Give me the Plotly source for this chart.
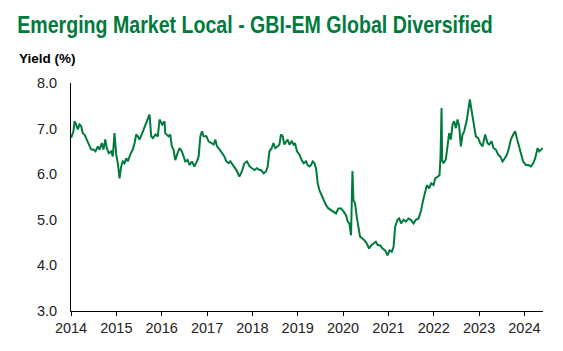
import datetime as dt
import plotly.graph_objects as go

# Time of each reading, as decimal years
t_years = [
    2014.004, 2014.026, 2014.055, 2014.077, 2014.115, 2014.150, 2014.188, 2014.225, 2014.260,
    2014.298, 2014.336, 2014.371, 2014.408, 2014.446, 2014.497, 2014.541, 2014.592, 2014.629,
    2014.680, 2014.717, 2014.755, 2014.790, 2014.834, 2014.887, 2014.923, 2014.960, 2014.998,
    2015.033, 2015.071, 2015.108, 2015.143, 2015.181, 2015.219, 2015.254, 2015.307, 2015.364,
    2015.402, 2015.439, 2015.475, 2015.512, 2015.572, 2015.623, 2015.673, 2015.733, 2015.770,
    2015.806, 2015.865, 2015.916, 2015.954, 2016.013, 2016.064, 2016.079, 2016.152, 2016.190,
    2016.225, 2016.263, 2016.300, 2016.351, 2016.395, 2016.446, 2016.483, 2016.521, 2016.572,
    2016.616, 2016.667, 2016.720, 2016.777, 2016.815, 2016.852, 2016.887, 2016.925, 2016.985,
    2017.035, 2017.086, 2017.146, 2017.183, 2017.219, 2017.278, 2017.329, 2017.382, 2017.426,
    2017.477, 2017.514, 2017.587, 2017.647, 2017.713, 2017.770, 2017.823, 2017.881, 2017.940,
    2017.991, 2018.044, 2018.102, 2018.155, 2018.190, 2018.249, 2018.300, 2018.338, 2018.375,
    2018.426, 2018.464, 2018.508, 2018.559, 2018.596, 2018.631, 2018.669, 2018.706, 2018.742,
    2018.779, 2018.817, 2018.868, 2018.912, 2018.941, 2018.985, 2019.038, 2019.088, 2019.132,
    2019.183, 2019.221, 2019.258, 2019.294, 2019.331, 2019.369, 2019.404, 2019.442, 2019.479,
    2019.530, 2019.574, 2019.625, 2019.678, 2019.735, 2019.795, 2019.846, 2019.898, 2019.956,
    2020.015, 2020.066, 2020.104, 2020.141, 2020.177, 2020.208, 2020.230, 2020.265, 2020.302,
    2020.340, 2020.375, 2020.428, 2020.472, 2020.523, 2020.574, 2020.618, 2020.671, 2020.722,
    2020.766, 2020.817, 2020.870, 2020.927, 2020.980, 2021.024, 2021.075, 2021.113, 2021.148,
    2021.201, 2021.236, 2021.280, 2021.333, 2021.384, 2021.444, 2021.494, 2021.554, 2021.605,
    2021.664, 2021.715, 2021.759, 2021.810, 2021.848, 2021.898, 2021.943, 2021.996, 2022.031,
    2022.091, 2022.128, 2022.150, 2022.172, 2022.185, 2022.216, 2022.267, 2022.305, 2022.340,
    2022.377, 2022.415, 2022.450, 2022.488, 2022.525, 2022.561, 2022.598, 2022.636, 2022.671,
    2022.724, 2022.759, 2022.797, 2022.826, 2022.857, 2022.892, 2022.929, 2022.980, 2023.024,
    2023.077, 2023.135, 2023.188, 2023.223, 2023.276, 2023.320, 2023.371, 2023.422, 2023.466,
    2023.519, 2023.570, 2023.614, 2023.651, 2023.702, 2023.753, 2023.797, 2023.834, 2023.872,
    2023.923, 2023.973, 2024.033, 2024.093, 2024.143, 2024.194, 2024.238, 2024.291, 2024.327,
    2024.380, 2024.402,
]

yields = [
    6.80, 6.87, 6.94, 7.16, 7.09, 6.98, 7.09, 7.05, 6.90,
    6.87, 6.79, 6.72, 6.61, 6.54, 6.54, 6.50, 6.61, 6.54,
    6.68, 6.54, 6.76, 6.57, 6.46, 6.50, 6.39, 6.90, 6.43,
    6.24, 5.91, 6.17, 6.28, 6.24, 6.35, 6.28, 6.43, 6.54,
    6.68, 6.87, 6.83, 6.76, 6.90, 7.05, 7.16, 7.31, 6.83,
    6.79, 6.87, 6.83, 7.20, 7.09, 7.16, 6.90, 6.83, 6.87,
    6.61, 6.54, 6.31, 6.46, 6.57, 6.50, 6.39, 6.28, 6.31,
    6.20, 6.28, 6.17, 6.28, 6.39, 6.83, 6.94, 6.83, 6.83,
    6.72, 6.68, 6.65, 6.76, 6.61, 6.54, 6.46, 6.39, 6.28,
    6.24, 6.28, 6.17, 6.09, 5.95, 6.06, 6.24, 6.28, 6.17,
    6.13, 6.09, 6.13, 6.09, 6.09, 6.02, 6.06, 6.17, 6.50,
    6.57, 6.68, 6.57, 6.61, 6.65, 6.87, 6.83, 6.65, 6.72,
    6.76, 6.65, 6.72, 6.65, 6.68, 6.50, 6.43, 6.31, 6.24,
    6.28, 6.20, 6.17, 6.20, 6.28, 6.24, 6.13, 5.80, 5.65,
    5.54, 5.43, 5.32, 5.25, 5.21, 5.18, 5.14, 5.25, 5.25,
    5.18, 5.10, 4.96, 4.92, 4.66, 6.07, 5.43, 5.36, 5.07,
    4.85, 4.63, 4.59, 4.55, 4.48, 4.37, 4.44, 4.48, 4.52,
    4.44, 4.44, 4.37, 4.33, 4.22, 4.33, 4.30, 4.41, 4.85,
    5.00, 5.03, 4.92, 5.00, 4.96, 5.03, 5.00, 4.92, 5.00,
    5.03, 5.18, 5.40, 5.62, 5.76, 5.69, 5.80, 5.76, 5.91,
    5.95, 5.98, 6.40, 7.45, 6.30, 6.24, 6.33, 6.61, 6.90,
    6.76, 7.09, 7.16, 7.01, 7.20, 7.05, 6.61, 6.87, 6.94,
    7.16, 7.38, 7.64, 7.45, 7.23, 7.01, 6.83, 6.79, 6.68,
    6.61, 6.87, 6.68, 6.65, 6.72, 6.57, 6.54, 6.43, 6.39,
    6.28, 6.35, 6.43, 6.54, 6.76, 6.87, 6.94, 6.79, 6.65,
    6.50, 6.28, 6.20, 6.20, 6.17, 6.24, 6.35, 6.57, 6.50,
    6.54, 6.57,
]

year_ticks = [f"{y}-01-01" for y in range(2014, 2025)]
year_labels = [str(y) for y in range(2014, 2025)]
y_ticks = [3, 4, 5, 6, 7, 8]

title_text = "Emerging Market Local - GBI-EM Global Diversified"
y_title = "Yield (%)"


def to_date(t):
    y = int(t)
    start = dt.datetime(y, 1, 1)
    span = (dt.datetime(y + 1, 1, 1) - start).days
    return start + dt.timedelta(days=(t - y) * span)


dates = [to_date(t) for t in t_years]

GREEN = "#007A3D"

fig = go.Figure()
fig.add_trace(go.Scatter(
    x=dates, y=yields, mode="lines",
    line=dict(color=GREEN, width=2),
    showlegend=False, hoverinfo="skip",
))

L, R, T, B = 71, 20, 83, 40
W, H = 563, 351
pw, ph = W - L - R, H - T - B


def px_x(p):
    return (p - L) / pw


def px_y(p):
    return (H - B - p) / ph


fig.update_layout(
    width=W, height=H,
    margin=dict(l=L, r=R, t=T, b=B, pad=0),
    paper_bgcolor="white", plot_bgcolor="white",
    font=dict(family="Liberation Sans, Arial, sans-serif", size=14.5, color="#222222"),
    xaxis=dict(
        type="date",
        range=["2014-01-01", "2024-05-30"],
        tickvals=year_ticks, ticktext=year_labels,
        showgrid=False, zeroline=False,
        showline=True, linecolor="black", linewidth=1,
        ticks="outside", ticklen=4, tickcolor="black", tickwidth=1,
    ),
    yaxis=dict(
        range=[3, 8],
        tickvals=y_ticks, tickformat=".1f",
        showgrid=False, zeroline=False,
        showline=True, linecolor="black", linewidth=1,
        ticks="", ticklabelstandoff=10,
    ),
    annotations=[
        dict(text=f"<b>{title_text}</b>", xref="paper", yref="paper",
             x=px_x(15), y=px_y(24.5), xanchor="left", yanchor="middle",
             showarrow=False,
             font=dict(family="Liberation Sans, Arial, sans-serif",
                       size=24.5, color=GREEN)),
        dict(text=f"<b>{y_title}</b>", xref="paper", yref="paper",
             x=px_x(17), y=px_y(58), xanchor="left", yanchor="middle",
             showarrow=False,
             font=dict(family="Liberation Sans, Arial, sans-serif", size=13.5, color="black")),
    ],
)

# The reference title uses a narrow bold face; condense the title text horizontally.
post = """
var gd = document.getElementById('{plot_id}');
gd.querySelectorAll('text.annotation-text').forEach(function(t){
  if (t.textContent.indexOf('Emerging') === 0) {
    t.style.transformBox = 'fill-box';
    t.style.transformOrigin = '0% 50%';
    t.style.transform = 'scaleX(0.80)';
  }
});
"""

fig.write_html("out.html", post_script=post)
